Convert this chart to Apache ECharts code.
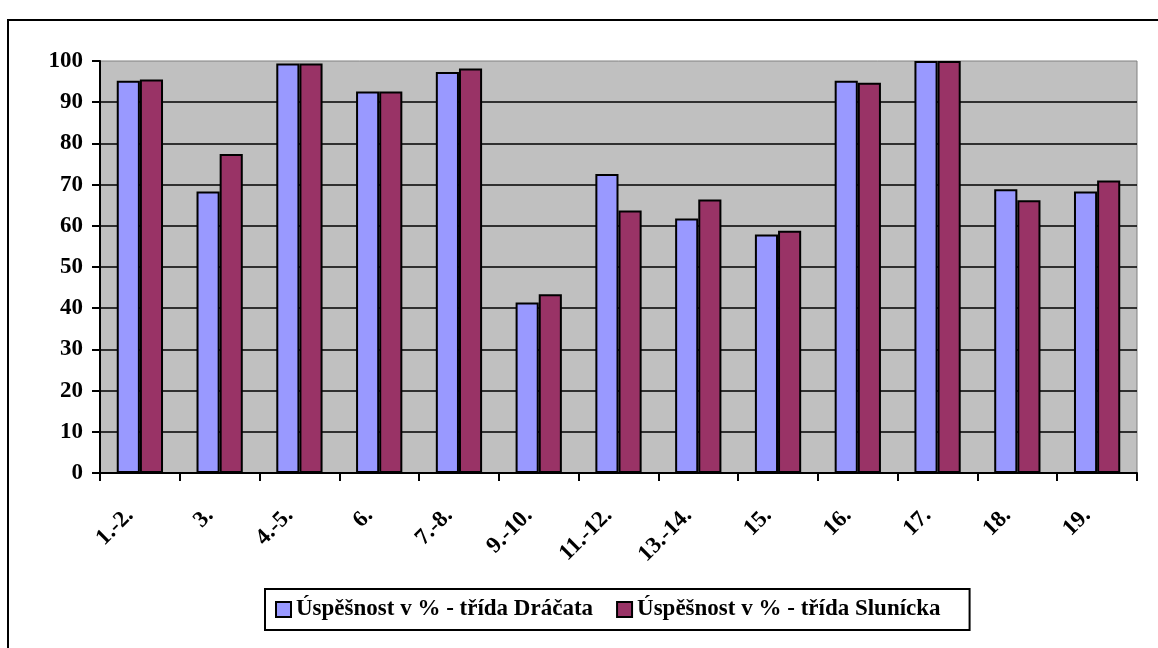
<!DOCTYPE html>
<html>
<head>
<meta charset="utf-8">
<script src="https://cdn.jsdelivr.net/npm/echarts@6/dist/echarts.min.js"></script>
<style>
html,body{margin:0;padding:0;background:#fff;}
#c{width:1158px;height:648px;}
</style>
</head>
<body>
<div id="c"></div>
<script>
const categories = ['1.-2.', '3.', '4.-5.', '6.', '7.-8.', '9.-10.', '11.-12.', '13.-14.', '15.', '16.', '17.', '18.', '19.'];
const seriesNames = ['Úspěšnost v % - třída Dráčata', 'Úspěšnost v % - třída Slunícka'];
const dracata = [95.2, 68.3, 99.4, 92.6, 97.3, 41.4, 72.6, 61.8, 57.9, 95.2, 100, 68.9, 68.3];
const slunicka = [95.5, 77.4, 99.4, 92.6, 98.2, 43.4, 63.7, 66.4, 58.8, 94.7, 100, 66.2, 71.0];
const yTicks = [0, 10, 20, 30, 40, 50, 60, 70, 80, 90, 100];

const font = 'Liberation Serif, Times New Roman, serif';
const chart = echarts.init(document.getElementById('c'), null, {renderer: 'canvas'});
chart.setOption({
  animation: false,
  backgroundColor: '#fff',
  graphic: [{
    type: 'rect', z: 100,
    shape: {x: 8, y: 20, width: 1200, height: 700},
    style: {fill: 'none', stroke: '#000', lineWidth: 2}
  }],
  grid: {
    left: 100, right: 21, top: 61, bottom: 175,
    show: true, backgroundColor: '#C0C0C0', borderColor: '#808080', borderWidth: 1
  },
  legend: {
    left: 265, top: 589,
    data: seriesNames,
    orient: 'horizontal',
    borderColor: '#000', borderWidth: 2,
    padding: [9, 29, 9, 10],
    itemWidth: 15, itemHeight: 15, itemGap: 23,
    icon: 'rect',
    itemStyle: {borderColor: '#000', borderWidth: 2},
    textStyle: {fontFamily: font, fontWeight: 'bold', fontSize: 23, color: '#000'}
  },
  xAxis: {
    type: 'category',
    data: categories,
    boundaryGap: true,
    axisLine: {lineStyle: {color: '#000', width: 2}},
    axisTick: {show: true, length: 8, lineStyle: {color: '#000', width: 2}},
    axisLabel: {
      rotate: 45, interval: 0, margin: 29,
      fontFamily: font, fontWeight: 'bold', fontSize: 23, color: '#000',
      padding: [0, 14, 0, 0]
    },
    splitLine: {show: false}
  },
  yAxis: {
    type: 'value',
    min: 0, max: 100, interval: 10,
    axisLine: {show: true, lineStyle: {color: '#000', width: 2}},
    axisTick: {show: true, length: 8, lineStyle: {color: '#000', width: 2}},
    axisLabel: {
      margin: 17, fontFamily: font, fontWeight: 'bold', fontSize: 23, color: '#000',
      formatter: function (v) { return yTicks.indexOf(v) >= 0 ? String(v) : ''; }
    },
    splitLine: {show: true, showMaxLine: false, lineStyle: {color: '#000', width: 1.5}}
  },
  series: [
    {
      name: seriesNames[0], type: 'bar', data: dracata,
      barGap: '0%', barCategoryGap: '42%',
      itemStyle: {color: '#9999FF', borderColor: '#000', borderWidth: 2}
    },
    {
      name: seriesNames[1], type: 'bar', data: slunicka,
      barGap: '0%', barCategoryGap: '42%',
      itemStyle: {color: '#993366', borderColor: '#000', borderWidth: 2}
    }
  ]
});
</script>
</body>
</html>
